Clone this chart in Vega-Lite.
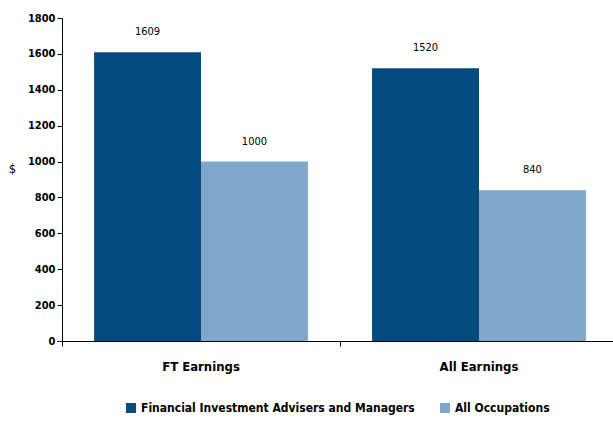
{
  "$schema": "https://vega.github.io/schema/vega-lite/v6.json",
  "width": 556,
  "height": 323,
  "autosize": {"type": "none"},
  "padding": {"left": 62, "top": 18, "right": 0, "bottom": 80},
  "background": "white",
  "config": {
    "view": {"stroke": null},
    "font": "DejaVu Sans Condensed, Liberation Sans, sans-serif"
  },
  "data": {
    "values": [
      {"group": "FT Earnings", "series": "Financial Investment Advisers and Managers", "value": 1609},
      {"group": "FT Earnings", "series": "All Occupations", "value": 1000},
      {"group": "All Earnings", "series": "Financial Investment Advisers and Managers", "value": 1520},
      {"group": "All Earnings", "series": "All Occupations", "value": 840}
    ]
  },
  "encoding": {
    "x": {
      "field": "group", "type": "nominal", "sort": ["FT Earnings", "All Earnings"],
      "scale": {"paddingInner": 0, "paddingOuter": 0},
      "axis": {"title": null, "labelAngle": 0, "labelFontSize": 13, "labelFontWeight": "bold", "labelColor": "#000", "labelPadding": 14, "domainColor": "#000", "tickColor": "#000", "bandPosition": 0, "tickSize": 5}
    },
    "xOffset": {"field": "series", "type": "nominal", "sort": ["Financial Investment Advisers and Managers", "All Occupations"], "scale": {"paddingInner": 0, "paddingOuter": 0.3}},
    "y": {
      "field": "value", "type": "quantitative",
      "scale": {"domain": [0, 1800]},
      "axis": {"values": [0,200,400,600,800,1000,1200,1400,1600,1800], "format": "d", "grid": false, "title": "$", "titleAngle": 0, "titleX": -50, "titleY": 157, "titleFontSize": 13, "titleFontWeight": "normal", "titleColor": "#000", "labelFontSize": 11, "labelFontWeight": "bold", "labelColor": "#000", "domainColor": "#000", "tickColor": "#000", "tickSize": 5}
    }
  },
  "layer": [
    {
      "mark": {"type": "bar"},
      "encoding": {
        "color": {
          "field": "series", "type": "nominal",
          "sort": ["Financial Investment Advisers and Managers", "All Occupations"],
          "scale": {"domain": ["Financial Investment Advisers and Managers", "All Occupations"], "range": ["#034a7e", "#7fa6cb"]},
          "legend": {"orient": "none", "legendX": 63, "legendY": 384, "direction": "horizontal", "title": null, "symbolType": "square", "symbolSize": 100, "symbolStrokeWidth": 0, "labelFontSize": 12, "labelFontWeight": "bold", "labelColor": "#000", "labelLimit": 400, "columnPadding": 24, "symbolOpacity": 1}
        }
      }
    },
    {
      "mark": {"type": "text", "baseline": "bottom", "dy": -15, "fontSize": 11, "color": "#000"},
      "encoding": {"text": {"field": "value", "type": "quantitative"}}
    }
  ]
}
